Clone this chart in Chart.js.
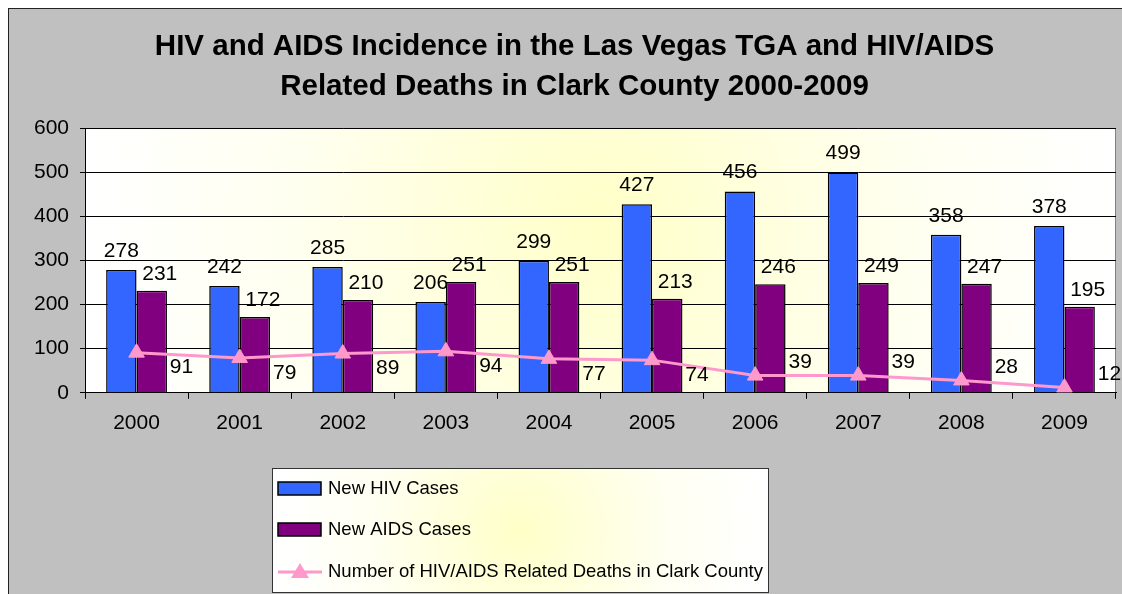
<!DOCTYPE html>
<html>
<head>
<meta charset="utf-8">
<script src="https://cdn.jsdelivr.net/npm/chart.js@4.4.1/dist/chart.umd.min.js"></script>
<style>
  html, body { margin: 0; padding: 0; background: #ffffff; overflow: hidden; width: 1122px; height: 594px; }
  #frame { position: absolute; left: 8px; top: 8px; width: 1200px; height: 700px; background: #c0c0c0; border-left: 1px solid #222; border-top: 1px solid #222; }
  #wrap { position: absolute; left: 0; top: 0; width: 1131px; height: 585px; }
</style>
</head>
<body>
<div id="frame"><div id="wrap"><canvas id="c" width="1131" height="585"></canvas></div></div>
<script>
const categories = ['2000','2001','2002','2003','2004','2005','2006','2007','2008','2009'];
const newHIV = [278, 242, 285, 206, 299, 427, 456, 499, 358, 378];
const newAIDS = [231, 172, 210, 251, 251, 213, 246, 249, 247, 195];
const deaths = [91, 79, 89, 94, 77, 74, 39, 39, 28, 12];
const titleLines = ['HIV and AIDS Incidence in the Las Vegas TGA and HIV/AIDS', 'Related Deaths in Clark County 2000-2009'];
const seriesNames = ['New HIV Cases', 'New AIDS Cases', 'Number of HIV/AIDS Related Deaths in Clark County'];

const FONT = '"Liberation Sans", Arial, sans-serif';

const bgPlugin = {
  id: 'bgPlugin',
  beforeDraw(chart) {
    const { ctx, chartArea: a } = chart;
    ctx.save();
    const cx = (a.left + a.right) / 2, cy = (a.top + a.bottom) / 2;
    const g = ctx.createRadialGradient(cx, cy - 40, 0, cx, cy - 40, (a.right - a.left) / 2);
    g.addColorStop(0, '#ffffc8');
    g.addColorStop(0.6, '#fffff0');
    g.addColorStop(1, '#ffffff');
    ctx.fillStyle = g;
    ctx.fillRect(a.left, a.top, a.right - a.left, a.bottom - a.top);
    ctx.strokeStyle = '#808080';
    ctx.lineWidth = 1;
    ctx.beginPath();
    ctx.moveTo(a.left, a.top + 0.5);
    ctx.lineTo(a.right - 0.5, a.top + 0.5);
    ctx.lineTo(a.right - 0.5, a.bottom);
    ctx.stroke();
    ctx.restore();
  }
};

const labelPlugin = {
  id: 'labelPlugin',
  afterDatasetsDraw(chart) {
    const { ctx } = chart;
    ctx.save();
    ctx.font = '21px ' + FONT;
    ctx.fillStyle = '#000';
    ctx.textAlign = 'center';
    ctx.textBaseline = 'middle';
    chart.data.datasets.forEach((ds, di) => {
      const meta = chart.getDatasetMeta(di);
      meta.data.forEach((el, i) => {
        const v = ds.data[i];
        let x = el.x, y = el.y;
        if (ds.type === 'line') {
          x += 45;
          y = el.y + 15;
          if (y > chart.chartArea.bottom - 11) y = el.y - 13;
        } else if (di === 0) {
          y = el.y - 19;
        } else {
          x += 8;
          y = el.y - 17;
        }
        ctx.fillText(String(v), x, y);
      });
    });
    ctx.restore();
  }
};

const legendPlugin = {
  id: 'legendPlugin',
  afterDraw(chart) {
    const { ctx, chartArea: a } = chart;
    const L = a.left + 187, T = 459, W = 496, H = 124;
    ctx.save();
    const g = ctx.createRadialGradient(L + W / 2, T + H / 2, 0, L + W / 2, T + H / 2, W / 2);
    g.addColorStop(0, '#ffffc8');
    g.addColorStop(0.6, '#fffff2');
    g.addColorStop(1, '#ffffff');
    ctx.fillStyle = g;
    ctx.fillRect(L, T, W, H);
    ctx.strokeStyle = '#333';
    ctx.lineWidth = 1;
    ctx.strokeRect(L + 0.5, T + 0.5, W, H);
    const rows = [T + 20, T + 61, T + 103];
    ctx.font = '18.5px ' + FONT;
    ctx.textBaseline = 'middle';
    ctx.textAlign = 'left';
    chart.data.datasets.forEach((ds, i) => {
      const y = rows[i];
      const sx = L + 6;
      if (ds.type === 'line') {
        ctx.strokeStyle = ds.borderColor;
        ctx.lineWidth = 3;
        ctx.beginPath();
        ctx.moveTo(sx, y + 1);
        ctx.lineTo(sx + 44, y + 1);
        ctx.stroke();
        ctx.fillStyle = ds.pointBackgroundColor;
        ctx.beginPath();
        ctx.moveTo(sx + 22, y - 8);
        ctx.lineTo(sx + 31, y + 7);
        ctx.lineTo(sx + 13, y + 7);
        ctx.closePath();
        ctx.fill();
      } else {
        ctx.fillStyle = ds.backgroundColor;
        ctx.fillRect(sx, y - 6, 43, 13);
        ctx.strokeStyle = '#000';
        ctx.lineWidth = 1.5;
        ctx.strokeRect(sx, y - 6, 43, 13);
      }
      ctx.fillStyle = '#000';
      ctx.fillText(ds.label, L + 56, y + 1);
    });
    ctx.restore();
  }
};

new Chart(document.getElementById('c'), {
  data: {
    labels: categories,
    datasets: [
      { type: 'bar', label: seriesNames[0], data: newHIV, backgroundColor: '#3366ff', borderColor: '#000', borderWidth: 1.5, order: 2, categoryPercentage: 0.59, barPercentage: 1.0 },
      { type: 'bar', label: seriesNames[1], data: newAIDS, backgroundColor: '#800080', borderColor: '#000', borderWidth: 1.5, order: 2, categoryPercentage: 0.59, barPercentage: 1.0 },
      { type: 'line', label: seriesNames[2], data: deaths, borderColor: '#ff99cc', backgroundColor: '#ff99cc', borderWidth: 3, pointStyle: 'triangle', pointRadius: 9, pointBackgroundColor: '#ff99cc', pointBorderColor: '#ff99cc', pointBorderWidth: 1, tension: 0, order: 0 }
    ]
  },
  options: {
    responsive: false,
    animation: false,
    events: [],
    layout: { padding: { left: 24, right: 24, top: 0, bottom: 146 } },
    plugins: {
      legend: { display: false },
      tooltip: { enabled: false },
      title: {
        display: true,
        text: titleLines,
        color: '#000',
        font: { family: FONT, size: 29.5, weight: 'bold', lineHeight: 40 / 29.5 },
        padding: { top: 18, bottom: 21 }
      }
    },
    scales: {
      x: {
        offset: true,
        grid: { display: true, drawOnChartArea: false, drawTicks: true, tickLength: 6, color: '#000', offset: true },
        border: { display: true, color: '#000', width: 1 },
        ticks: { color: '#000', font: { family: FONT, size: 21 }, padding: 12, maxRotation: 0 }
      },
      y: {
        min: 0, max: 600,
        afterFit(s) { s.width = 52; },
        grid: { color: '#000', drawTicks: true, tickLength: 5, lineWidth: 1 },
        border: { display: true, color: '#000', width: 1 },
        ticks: { stepSize: 100, color: '#000', font: { family: FONT, size: 21 }, padding: 11 }
      }
    }
  },
  plugins: [bgPlugin, labelPlugin, legendPlugin]
});
</script>
</body>
</html>
